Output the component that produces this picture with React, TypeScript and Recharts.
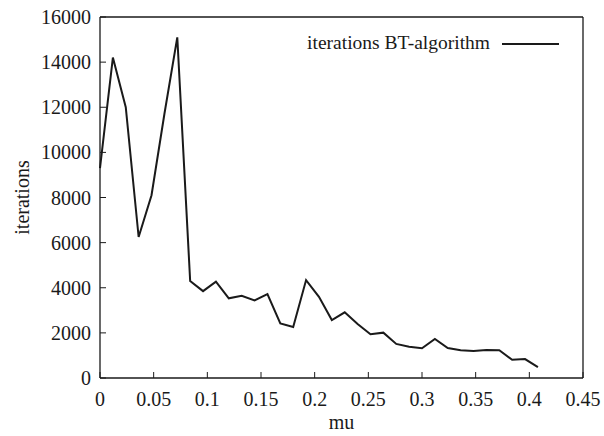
import React from 'react';
import { LineChart, Line, XAxis, YAxis, Legend } from 'recharts';

const mu = [0, 0.012, 0.024, 0.036, 0.048, 0.06, 0.072, 0.084, 0.096, 0.108, 0.12, 0.132, 0.144, 0.156, 0.168, 0.18, 0.192, 0.204, 0.216, 0.228, 0.24, 0.252, 0.264, 0.276, 0.288, 0.3, 0.312, 0.324, 0.336, 0.348, 0.36, 0.372, 0.384, 0.396, 0.408];
const iterations = [9300, 14200, 12000, 6250, 8100, 11700, 15100, 4300, 3850, 4270, 3530, 3640, 3440, 3720, 2420, 2260, 4340, 3600, 2570, 2910, 2390, 1940, 2010, 1510, 1390, 1320, 1730, 1330, 1230, 1200, 1240, 1230, 810, 840, 480];
const xTicks = [0, 0.05, 0.1, 0.15, 0.2, 0.25, 0.3, 0.35, 0.4, 0.45];
const yTicks = [0, 2000, 4000, 6000, 8000, 10000, 12000, 14000, 16000];
const seriesName = 'iterations BT-algorithm';

const data = mu.map((m, i) => ({ mu: m, iterations: iterations[i] }));

const FONT = "'Liberation Serif', 'Times New Roman', serif";
const INK = '#1a1a1a';
const tickStyle = { fontFamily: FONT, fontSize: 20, fill: INK };

const LegendContent = () => (
  <svg width={604} height={30} style={{ display: 'block' }}>
    <text x={490} y={24} textAnchor="end" style={{ fontFamily: FONT, fontSize: 19.5 }} fill={INK}>
      {seriesName}
    </text>
    <line x1={502} x2={559} y1={19} y2={19} stroke={INK} strokeWidth={2} />
  </svg>
);

export default function App() {
  return (
    <div style={{ position: 'absolute', left: 0, top: 0, background: '#fff', fontFamily: FONT }}>
      <LineChart
        width={604}
        height={436}
        data={data}
        margin={{ top: 16, right: 20, bottom: 0, left: 0 }}
        style={{ fontFamily: FONT }}
      >
        <XAxis
          xAxisId="b"
          dataKey="mu"
          type="number"
          domain={[0, 0.45]}
          ticks={xTicks}
          height={58}
          tickSize={-6}
          tickMargin={20}
          tick={tickStyle}
          stroke={INK}
          axisLine={{ stroke: INK, strokeWidth: 1.3 }}
          tickLine={{ stroke: INK }}
          label={{ value: 'mu', position: 'center', dy: 15, style: { fontFamily: FONT, fontSize: 20, fill: INK } }}
        />
        <XAxis
          xAxisId="t"
          dataKey="mu"
          type="number"
          orientation="top"
          domain={[0, 0.45]}
          ticks={xTicks}
          height={1}
          tickSize={-6}
          tick={false}
          stroke={INK}
          axisLine={{ stroke: INK, strokeWidth: 1.3 }}
          tickLine={{ stroke: INK }}
        />
        <YAxis
          yAxisId="l"
          dataKey="iterations"
          type="number"
          domain={[0, 16000]}
          ticks={yTicks}
          width={100}
          tickSize={-6}
          tickMargin={15}
          tick={tickStyle}
          stroke={INK}
          axisLine={{ stroke: INK, strokeWidth: 1.3 }}
          tickLine={{ stroke: INK }}
          label={{ value: 'iterations', angle: -90, position: 'center', dx: -28, style: { fontFamily: FONT, fontSize: 20, fill: INK } }}
        />
        <YAxis
          yAxisId="r"
          dataKey="iterations"
          orientation="right"
          type="number"
          domain={[0, 16000]}
          ticks={yTicks}
          width={1}
          tickSize={-6}
          tick={false}
          stroke={INK}
          axisLine={{ stroke: INK, strokeWidth: 1.3 }}
          tickLine={{ stroke: INK }}
        />
        <Legend
          layout="vertical"
          align="center"
          verticalAlign="middle"
          content={<LegendContent />}
          wrapperStyle={{ position: 'absolute', top: 25, left: 0, width: 604 }}
        />
        <Line
          xAxisId="b"
          yAxisId="l"
          type="linear"
          dataKey="iterations"
          name={seriesName}
          stroke={INK}
          strokeWidth={2}
          dot={false}
          isAnimationActive={false}
        />
      </LineChart>
    </div>
  );
}
